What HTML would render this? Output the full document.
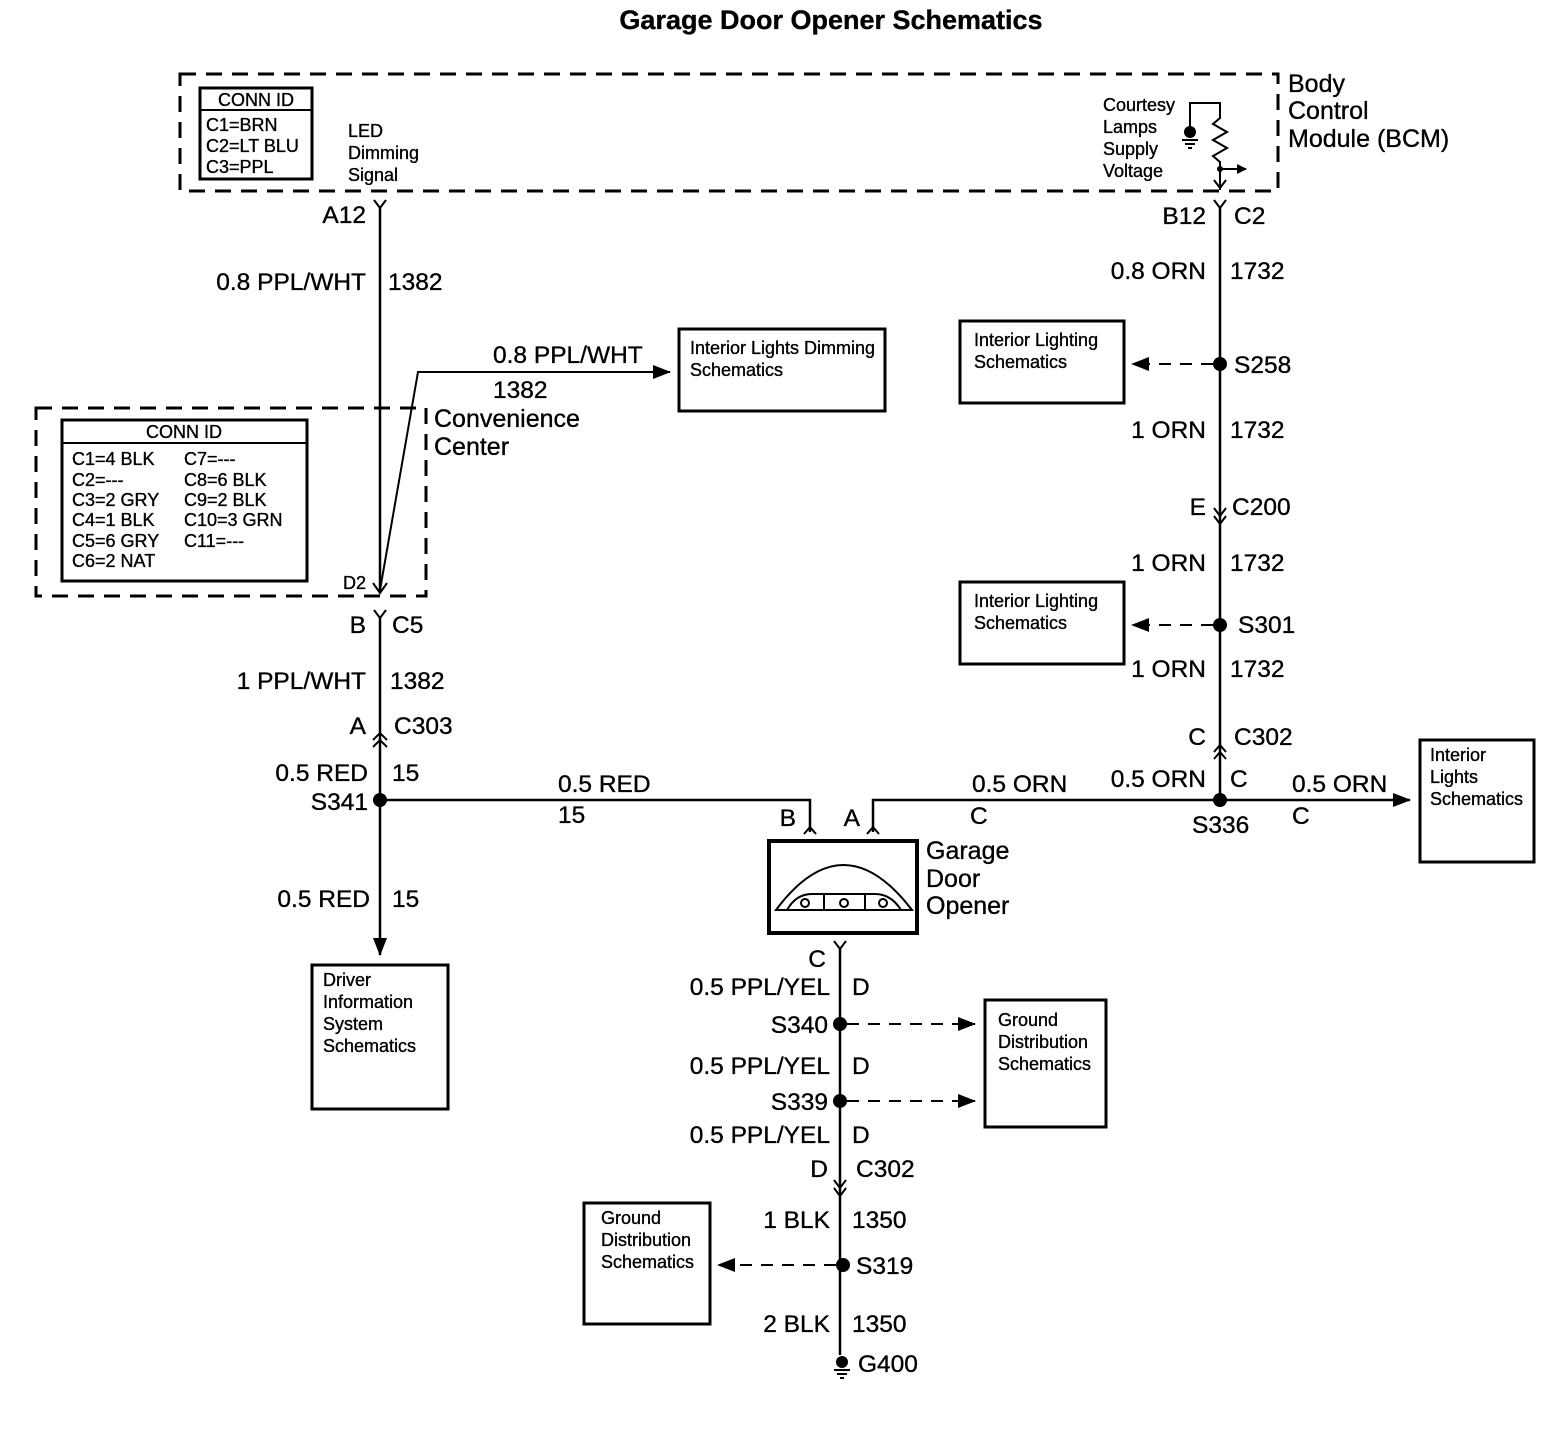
<!DOCTYPE html>
<html><head><meta charset="utf-8"><style>
html,body{margin:0;padding:0;background:#fff}
svg{display:block}
text{font-family:"Liberation Sans",Arial,sans-serif;fill:#000;stroke:#000;stroke-width:0.35}
.w{font-size:24.5px}
.s{font-size:18px}
.l{font-size:25px}
</style></head><body>
<svg width="1542" height="1456" viewBox="0 0 1542 1456" xmlns="http://www.w3.org/2000/svg">
<defs>
<marker id="ah" markerWidth="10" markerHeight="10" refX="9" refY="5" orient="auto" markerUnits="userSpaceOnUse"><path d="M0,0 L10,5 L0,10 Z" fill="#000"/></marker>
<marker id="ahb" markerWidth="18" markerHeight="14" refX="17" refY="7" orient="auto" markerUnits="userSpaceOnUse"><path d="M0,0 L18,7 L0,14 Z" fill="#000"/></marker>
</defs>
<g stroke="#000" fill="none">
<text x="831" y="29" text-anchor="middle" style="font-size:27px;font-weight:bold" stroke="none">Garage Door Opener Schematics</text>

<rect x="180" y="74" width="1098" height="117" stroke-width="3" stroke-dasharray="16,10"/>
<rect x="200" y="88" width="112" height="91" stroke-width="3"/>
<line x1="200" y1="110" x2="312" y2="110" stroke-width="2"/>
<path d="M1190,128 L1190,103 L1220,103 L1220,118 L1213,124 L1227,132 L1213,140 L1227,148 L1213,156 L1220,162 L1220,190" stroke-width="2"/>
<circle cx="1190" cy="132" r="6" fill="#000" stroke="none"/>
<path d="M1182,140 h16 M1185,144 h10 M1188,148 h4" stroke-width="2"/>
<circle cx="1220" cy="169" r="3" fill="#000" stroke="none"/>
<line x1="1220" y1="169" x2="1246" y2="169" stroke-width="2" marker-end="url(#ah)"/>
<path d="M1214,180 L1220,188 L1226,180" stroke-width="2"/>

<path d="M374,200 L380,208 L386,200" stroke-width="2"/>
<line x1="380" y1="208" x2="380" y2="592" stroke-width="2.5"/>
<path d="M373,583 L380,593 L387,583" stroke-width="2"/>
<path d="M380,590 L418,372 L670,372" stroke-width="2" marker-end="url(#ahb)"/>
<rect x="679" y="329" width="206" height="82" stroke-width="3"/>
<rect x="36" y="408" width="390" height="188" stroke-width="3" stroke-dasharray="16,10"/>
<rect x="62" y="420" width="245" height="161" stroke-width="3"/>
<line x1="62" y1="443" x2="307" y2="443" stroke-width="2"/>
<path d="M374,610 L380,618 L386,610" stroke-width="2"/>
<line x1="380" y1="618" x2="380" y2="955" stroke-width="2.5" marker-end="url(#ahb)"/>
<path d="M373,740 L380,733 L387,740 M373,747 L380,740 L387,747" stroke-width="2"/>
<circle cx="380" cy="800" r="7" fill="#000" stroke="none"/>
<path d="M380,800 L810,800 L810,832" stroke-width="2.5"/>
<path d="M804,834 L810,827 L816,834" stroke-width="2"/>
<rect x="312" y="965" width="136" height="144" stroke-width="3"/>

<path d="M1214,200 L1220,208 L1226,200" stroke-width="2"/>
<line x1="1220" y1="208" x2="1220" y2="800" stroke-width="2.5"/>
<circle cx="1220" cy="364" r="7" fill="#000" stroke="none"/>
<line x1="1213" y1="364" x2="1132" y2="364" stroke-width="2" stroke-dasharray="12,9" marker-end="url(#ahb)"/>
<rect x="960" y="321" width="164" height="82" stroke-width="3"/>
<path d="M1214,508 L1220,516 L1226,508 M1214,516 L1220,524 L1226,516" stroke-width="2"/>
<circle cx="1220" cy="625" r="7" fill="#000" stroke="none"/>
<line x1="1213" y1="625" x2="1132" y2="625" stroke-width="2" stroke-dasharray="12,9" marker-end="url(#ahb)"/>
<rect x="960" y="582" width="164" height="82" stroke-width="3"/>
<path d="M1214,752 L1220,745 L1226,752 M1214,759 L1220,752 L1226,759" stroke-width="2"/>
<circle cx="1220" cy="800" r="7" fill="#000" stroke="none"/>
<path d="M873,832 L873,800 L1410,800" stroke-width="2.5" marker-end="url(#ahb)"/>
<path d="M867,834 L873,827 L879,834" stroke-width="2"/>
<rect x="1420" y="740" width="114" height="122" stroke-width="3"/>

<rect x="769" y="841" width="148" height="92" stroke-width="4"/>
<path d="M776,910 Q843,820 912,910 Z" stroke-width="2"/>
<path d="M787,910 Q796,894 812,894 L875,894 Q891,894 901,910" stroke-width="2"/>
<line x1="824" y1="894" x2="824" y2="910" stroke-width="2"/>
<line x1="865" y1="894" x2="865" y2="910" stroke-width="2"/>
<circle cx="805" cy="903" r="4" stroke-width="2"/>
<circle cx="844" cy="903" r="4" stroke-width="2"/>
<circle cx="883" cy="903" r="4" stroke-width="2"/>
<path d="M834,941 L840,949 L846,941" stroke-width="2"/>
<line x1="840" y1="949" x2="840" y2="1355" stroke-width="2.5"/>
<circle cx="840" cy="1024" r="7" fill="#000" stroke="none"/>
<line x1="847" y1="1024" x2="975" y2="1024" stroke-width="2" stroke-dasharray="12,9" marker-end="url(#ahb)"/>
<circle cx="840" cy="1101" r="7" fill="#000" stroke="none"/>
<line x1="847" y1="1101" x2="975" y2="1101" stroke-width="2" stroke-dasharray="12,9" marker-end="url(#ahb)"/>
<rect x="985" y="1000" width="121" height="127" stroke-width="3"/>
<path d="M834,1180 L840,1188 L846,1180 M834,1188 L840,1196 L846,1188" stroke-width="2"/>
<circle cx="843" cy="1265" r="7" fill="#000" stroke="none"/>
<line x1="836" y1="1265" x2="718" y2="1265" stroke-width="2" stroke-dasharray="12,9" marker-end="url(#ahb)"/>
<rect x="584" y="1203" width="126" height="121" stroke-width="3"/>
<circle cx="842" cy="1362" r="6" fill="#000" stroke="none"/>
<path d="M834,1370 h16 M837,1374 h10 M840,1378 h4" stroke-width="2"/>
</g>

<g>
<text x="1288" y="92" class="l">Body</text>
<text x="1288" y="119" class="l">Control</text>
<text x="1288" y="147" class="l">Module (BCM)</text>
<text x="256" y="106" class="s" text-anchor="middle">CONN ID</text>
<text x="206" y="131" class="s">C1=BRN</text>
<text x="206" y="152" class="s">C2=LT BLU</text>
<text x="206" y="173" class="s">C3=PPL</text>
<text x="348" y="137" class="s">LED</text>
<text x="348" y="159" class="s">Dimming</text>
<text x="348" y="181" class="s">Signal</text>
<text x="1103" y="111" class="s">Courtesy</text>
<text x="1103" y="133" class="s">Lamps</text>
<text x="1103" y="155" class="s">Supply</text>
<text x="1103" y="177" class="s">Voltage</text>
<text x="366" y="223" class="w" text-anchor="end">A12</text>
<text x="366" y="290" class="w" text-anchor="end">0.8 PPL/WHT</text>
<text x="388" y="290" class="w">1382</text>
<text x="493" y="363" class="w">0.8 PPL/WHT</text>
<text x="493" y="398" class="w">1382</text>
<text x="690" y="354" class="s">Interior Lights Dimming</text>
<text x="690" y="376" class="s">Schematics</text>
<text x="434" y="427" class="l">Convenience</text>
<text x="434" y="455" class="l">Center</text>
<text x="184" y="438" class="s" text-anchor="middle">CONN ID</text>
<text x="72" y="465" class="s">C1=4 BLK</text>
<text x="72" y="486" class="s">C2=---</text>
<text x="72" y="506" class="s">C3=2 GRY</text>
<text x="72" y="526" class="s">C4=1 BLK</text>
<text x="72" y="547" class="s">C5=6 GRY</text>
<text x="72" y="567" class="s">C6=2 NAT</text>
<text x="184" y="465" class="s">C7=---</text>
<text x="184" y="486" class="s">C8=6 BLK</text>
<text x="184" y="506" class="s">C9=2 BLK</text>
<text x="184" y="526" class="s">C10=3 GRN</text>
<text x="184" y="547" class="s">C11=---</text>
<text x="343" y="589" class="s">D2</text>
<text x="366" y="633" class="w" text-anchor="end">B</text>
<text x="392" y="633" class="w">C5</text>
<text x="366" y="689" class="w" text-anchor="end">1 PPL/WHT</text>
<text x="390" y="689" class="w">1382</text>
<text x="366" y="734" class="w" text-anchor="end">A</text>
<text x="394" y="734" class="w">C303</text>
<text x="368" y="781" class="w" text-anchor="end">0.5 RED</text>
<text x="392" y="781" class="w">15</text>
<text x="368" y="810" class="w" text-anchor="end">S341</text>
<text x="558" y="792" class="w">0.5 RED</text>
<text x="558" y="823" class="w">15</text>
<text x="370" y="907" class="w" text-anchor="end">0.5 RED</text>
<text x="392" y="907" class="w">15</text>
<text x="323" y="986" class="s">Driver</text>
<text x="323" y="1008" class="s">Information</text>
<text x="323" y="1030" class="s">System</text>
<text x="323" y="1052" class="s">Schematics</text>

<text x="1206" y="224" class="w" text-anchor="end">B12</text>
<text x="1234" y="224" class="w">C2</text>
<text x="1206" y="279" class="w" text-anchor="end">0.8 ORN</text>
<text x="1230" y="279" class="w">1732</text>
<text x="974" y="346" class="s">Interior Lighting</text>
<text x="974" y="368" class="s">Schematics</text>
<text x="1234" y="373" class="w">S258</text>
<text x="1206" y="438" class="w" text-anchor="end">1 ORN</text>
<text x="1230" y="438" class="w">1732</text>
<text x="1206" y="515" class="w" text-anchor="end">E</text>
<text x="1232" y="515" class="w">C200</text>
<text x="1206" y="571" class="w" text-anchor="end">1 ORN</text>
<text x="1230" y="571" class="w">1732</text>
<text x="974" y="607" class="s">Interior Lighting</text>
<text x="974" y="629" class="s">Schematics</text>
<text x="1238" y="633" class="w">S301</text>
<text x="1206" y="677" class="w" text-anchor="end">1 ORN</text>
<text x="1230" y="677" class="w">1732</text>
<text x="1206" y="745" class="w" text-anchor="end">C</text>
<text x="1234" y="745" class="w">C302</text>
<text x="1206" y="787" class="w" text-anchor="end">0.5 ORN</text>
<text x="1230" y="787" class="w">C</text>
<text x="1192" y="833" class="w">S336</text>
<text x="972" y="792" class="w">0.5 ORN</text>
<text x="970" y="824" class="w">C</text>
<text x="1292" y="792" class="w">0.5 ORN</text>
<text x="1292" y="824" class="w">C</text>
<text x="1430" y="761" class="s">Interior</text>
<text x="1430" y="783" class="s">Lights</text>
<text x="1430" y="805" class="s">Schematics</text>
<text x="796" y="826" class="w" text-anchor="end">B</text>
<text x="860" y="826" class="w" text-anchor="end">A</text>
<text x="926" y="859" class="l">Garage</text>
<text x="926" y="887" class="l">Door</text>
<text x="926" y="914" class="l">Opener</text>
<text x="826" y="967" class="w" text-anchor="end">C</text>
<text x="830" y="995" class="w" text-anchor="end">0.5 PPL/YEL</text>
<text x="852" y="995" class="w">D</text>
<text x="828" y="1033" class="w" text-anchor="end">S340</text>
<text x="998" y="1026" class="s">Ground</text>
<text x="998" y="1048" class="s">Distribution</text>
<text x="998" y="1070" class="s">Schematics</text>
<text x="830" y="1074" class="w" text-anchor="end">0.5 PPL/YEL</text>
<text x="852" y="1074" class="w">D</text>
<text x="828" y="1110" class="w" text-anchor="end">S339</text>
<text x="830" y="1143" class="w" text-anchor="end">0.5 PPL/YEL</text>
<text x="852" y="1143" class="w">D</text>
<text x="828" y="1177" class="w" text-anchor="end">D</text>
<text x="856" y="1177" class="w">C302</text>
<text x="830" y="1228" class="w" text-anchor="end">1 BLK</text>
<text x="852" y="1228" class="w">1350</text>
<text x="856" y="1274" class="w">S319</text>
<text x="601" y="1224" class="s">Ground</text>
<text x="601" y="1246" class="s">Distribution</text>
<text x="601" y="1268" class="s">Schematics</text>
<text x="830" y="1332" class="w" text-anchor="end">2 BLK</text>
<text x="852" y="1332" class="w">1350</text>
<text x="858" y="1372" class="w">G400</text>
</g>
</svg>
</body></html>
